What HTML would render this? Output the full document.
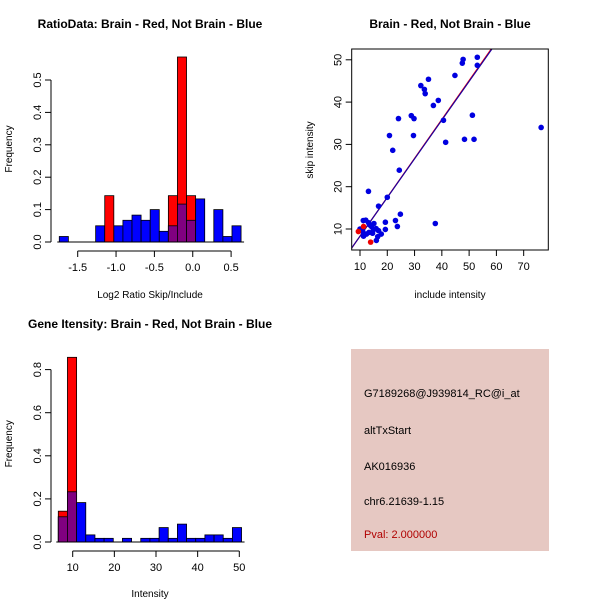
<!DOCTYPE html>
<html><head><meta charset="utf-8"><style>
body{margin:0;background:#fff;}
svg{display:block;font-family:"Liberation Sans",sans-serif;}
</style></head><body>
<svg id="s" width="600" height="600" viewBox="0 0 600 600">
<rect width="600" height="600" fill="#fff"/>
<text x="150" y="28" text-anchor="middle" font-size="12" font-weight="bold">RatioData: Brain - Red, Not Brain - Blue</text>
<text x="450" y="28" text-anchor="middle" font-size="12" font-weight="bold">Brain - Red, Not Brain - Blue</text>
<text x="150" y="328" text-anchor="middle" font-size="12" font-weight="bold">Gene Itensity: Brain - Red, Not Brain - Blue</text>
<g id="h1"></g>
<g id="h2"></g>
<g id="sc"></g>
<g>
<rect x="351" y="349" width="198" height="202" fill="#e6c8c2"/>
<g font-size="11">
<text x="364" y="397">G7189268@J939814_RC@i_at</text>
<text x="364" y="434">altTxStart</text>
<text x="364" y="470">AK016936</text>
<text x="364" y="505">chr6.21639-1.15</text>
<text x="364" y="538" fill="#b00000">Pval: 2.000000</text>
</g></g>
</svg>
<script>
const ratioBinStart=-1.74, ratioBinWidth=0.1185;
const ratioBlue=[0.017,0,0,0,0.05,0,0.05,0.067,0.083,0.067,0.1,0.033,0.05,0.117,0.067,0.133,0,0.1,0.017,0.05];
const ratioRed=[0,0,0,0,0,0.143,0,0,0,0,0,0,0.143,0.571,0.143,0,0,0,0,0];
const ratioXTicks=[-1.5,-1.0,-0.5,0.0,0.5];
const ratioYTicks=[0,0.1,0.2,0.3,0.4,0.5];
const intBinStart=6.54, intBinWidth=2.2;
const intBlue=[0.117,0.233,0.183,0.033,0.017,0.017,0,0.017,0,0.017,0.017,0.067,0.017,0.083,0.017,0.017,0.033,0.033,0.017,0.067];
const intRed=[0.143,0.857,0,0,0,0,0,0,0,0,0,0,0,0,0,0,0,0,0,0];
const intXTicks=[10,20,30,40,50];
const intYTicks=[0,0.2,0.4,0.6,0.8];
const blueX=[76.4,53,53,47.8,47.5,44.8,35.1,32.3,33.6,33.9,38.7,36.9,40.6,51.2,28.8,29.8,24.1,20.8,29.6,41.4,48.3,51.8,22,24.4,13.1,20,16.8,24.8,23,23.7,37.6,19.3,19.3,11.2,12.1,13.1,13.7,15.1,14.2,15.9,16.8,17.8,11.3,12.4,13.3,14.6,16,10,11,16.5,14.9];
const blueY=[34,50.6,48.7,50.1,49.2,46.3,45.4,43.9,43,42,40.4,39.2,35.7,36.9,36.8,36.1,36.1,32.1,32.1,30.5,31.2,31.2,28.6,23.9,18.9,17.5,15.4,13.5,12,10.6,11.3,11.6,9.9,12,12.1,11.5,10.9,11.3,10.6,10.1,9.6,8.8,8.3,8.8,9.2,9,7.3,10,9.4,8.2,9.8];
const redX=[9.4,11.3,13.9];
const redY=[9.4,10.6,6.9];
const fitRed=[-0.9,0.92], fitBlue=[-0.85,0.915];
const scXTicks=[10,20,30,40,50,60,70];
const scYTicks=[10,20,30,40,50];
const NS='http://www.w3.org/2000/svg';
function mk(p,t,a){const e=document.createElementNS(NS,t);for(const k in a)e.setAttribute(k,a[k]);p.appendChild(e);return e;}
function hist(g,start,w,blue,red,xt,yt,X,Y,xlab,xlabY,xfmt,yfmt){
  for(let i=0;i<blue.length;i++){
    const x0=X(start+i*w),x1=X(start+(i+1)*w);
    const b=blue[i],r=red[i],m=Math.min(b,r);
    if(b>0){const e=mk(g,'rect',{x:x0,y:Y(b),width:x1-x0,height:Y(0)-Y(b),fill:'#0000ff',stroke:'#000','stroke-width':0.8});
      
      }
    if(r>0){const e=mk(g,'rect',{x:x0,y:Y(r),width:x1-x0,height:Y(0)-Y(r),fill:'#ff0000',stroke:'#000','stroke-width':0.8});
      
      }
    if(m>0){const e=mk(g,'rect',{x:x0,y:Y(m),width:x1-x0,height:Y(0)-Y(m),fill:'#800080',stroke:'#000','stroke-width':0.8});
      
      }
  }
  const base=Y(0);
  mk(g,'line',{x1:X(start)-2,x2:X(start+blue.length*w)+3,y1:base,y2:base,stroke:'#000'});
  const ax=Y(0)+9;
  mk(g,'line',{x1:X(xt[0]),x2:X(xt[xt.length-1]),y1:ax,y2:ax,stroke:'#000'});
  xt.forEach(v=>{mk(g,'line',{x1:X(v),x2:X(v),y1:ax,y2:ax+6,stroke:'#000'});
    const t=mk(g,'text',{x:X(v),y:ax+20,'text-anchor':'middle','font-size':11});t.textContent=xfmt(v);
    
    });
  const yx=51;
  mk(g,'line',{x1:yx,x2:yx,y1:Y(yt[0]),y2:Y(yt[yt.length-1]),stroke:'#000'});
  yt.forEach(v=>{mk(g,'line',{x1:yx,x2:yx-6,y1:Y(v),y2:Y(v),stroke:'#000'});
    const t=mk(g,'text',{x:yx-10,y:Y(v),'text-anchor':'middle','font-size':11,transform:`rotate(-90 ${yx-10} ${Y(v)})`});t.textContent=yfmt(v);
    
    });
  const xl=mk(g,'text',{x:150,y:xlabY,'text-anchor':'middle','font-size':10});xl.textContent=xlab;
  
  
  const yc=(Y(yt[0])+Y(yt[yt.length-1]))/2-12;
  const yl=mk(g,'text',{x:12,y:yc,'text-anchor':'middle','font-size':10,transform:`rotate(-90 12 ${yc})`});yl.textContent='Frequency';
  
  
}
hist(document.getElementById('h1'),ratioBinStart,ratioBinWidth,ratioBlue,ratioRed,ratioXTicks,ratioYTicks,
  v=>77.7+(v+1.5)*76.7, v=>242-v*324,'Log2 Ratio Skip/Include',298,v=>v.toFixed(1),v=>v.toFixed(1));
hist(document.getElementById('h2'),intBinStart,intBinWidth,intBlue,intRed,intXTicks,intYTicks,
  v=>72.7+(v-10)*4.165, v=>542-v*215.5,'Intensity',597,v=>String(v),v=>v===0?'0.0':v.toFixed(1));
(function(){
  const g=document.getElementById('sc');
  const X=v=>360+(v-10)*2.728, Y=v=>229-(v-10)*4.23;
  const L=351.7,R=548.3,T=49,B=250;
  const cp=mk(g,'clipPath',{id:'cp'});mk(cp,'rect',{x:L,y:T,width:R-L,height:B-T});
  [[fitRed,'#ff0000'],[fitBlue,'#1a00a0']].forEach(([f,c])=>{const e=mk(g,'line',{x1:X(0),y1:Y(f[0]),x2:X(80),y2:Y(f[0]+f[1]*80),stroke:c,'stroke-width':1.2,'clip-path':'url(#cp)'});
    
    });
  blueX.forEach((x,i)=>{const e=mk(g,'circle',{cx:X(x),cy:Y(blueY[i]),r:2.8,fill:'#0000e0'});
    
    });
  redX.forEach((x,i)=>{const e=mk(g,'circle',{cx:X(x),cy:Y(redY[i]),r:2.8,fill:'#ee0000'});
    
    });
  mk(g,'rect',{x:L,y:T,width:R-L,height:B-T,fill:'none',stroke:'#000'});
  scXTicks.forEach(v=>{mk(g,'line',{x1:X(v),x2:X(v),y1:B,y2:B+6,stroke:'#000'});
    const t=mk(g,'text',{x:X(v),y:B+20,'text-anchor':'middle','font-size':11});t.textContent=v;
    
    });
  scYTicks.forEach(v=>{mk(g,'line',{x1:L,x2:L-6,y1:Y(v),y2:Y(v),stroke:'#000'});
    const t=mk(g,'text',{x:L-10,y:Y(v),'text-anchor':'middle','font-size':11,transform:`rotate(-90 ${L-10} ${Y(v)})`});t.textContent=v;
    
    });
  const xl=mk(g,'text',{x:450,y:298,'text-anchor':'middle','font-size':10});xl.textContent='include intensity';
  
  
  const yl=mk(g,'text',{x:313,y:150,'text-anchor':'middle','font-size':10,transform:'rotate(-90 313 150)'});yl.textContent='skip intensity';
  
  
})();
</script>
</body></html>
